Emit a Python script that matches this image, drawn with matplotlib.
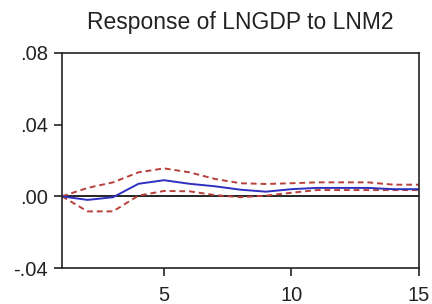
import numpy as np
import matplotlib
matplotlib.use("Agg")
import matplotlib.pyplot as plt

plt.rcParams['font.family'] = ['Liberation Sans', 'DejaVu Sans']

# impulse response periods and values
periods = list(range(1, 16))
response = [0.0, -0.002, -0.0005, 0.007, 0.009, 0.007, 0.0056, 0.0037, 0.0026,
            0.004, 0.0047, 0.0047, 0.0047, 0.004, 0.004]
upper = [0.0, 0.0047, 0.0078, 0.0134, 0.0156, 0.0134, 0.0097, 0.0073, 0.0069,
         0.0073, 0.0078, 0.0078, 0.0078, 0.0065, 0.0065]
lower = [0.0, -0.0084, -0.0084, 0.0004, 0.003, 0.0028, 0.0007, -0.0005, 0.0004,
         0.002, 0.0035, 0.0035, 0.0035, 0.0035, 0.0035]
yticks = [0.08, 0.04, 0.0, -0.04]
ytick_labels = ['.08', '.04', '.00', '-.04']
xticks = [5, 10, 15]

fig = plt.figure(figsize=(4.32, 3.04), dpi=100)
ax = fig.add_axes([62 / 432, 1 - 268 / 304, (419 - 62) / 432, (268 - 53) / 304])

ax.axhline(0, color='black', lw=1.2)
ax.plot(periods, upper, color='#b8403a', lw=1.4, ls=(0, (3, 2)))
ax.plot(periods, lower, color='#b8403a', lw=1.4, ls=(0, (3, 2)))
ax.plot(periods, response, color='#3030c0', lw=1.4)

ax.set_xlim(1, 15)
ax.set_ylim(-0.04, 0.08)
ax.set_xticks(xticks)
ax.set_xticklabels([str(t) for t in xticks])
ax.set_yticks(yticks)
ax.set_yticklabels(ytick_labels)
ax.tick_params(direction='out', length=6, width=1.2, labelsize=14.5, colors='#222222',
               top=False, right=False)
ax.tick_params(axis='x', pad=7)
ax.tick_params(axis='y', pad=4)
for s in ax.spines.values():
    s.set_linewidth(1.2)
    s.set_color('#222222')

fig.text(240 / 432, 1 - 22 / 304, 'Response of LNGDP to LNM2', ha='center',
         va='center', fontsize=16.5, color='#222222')

fig.savefig('out.png', dpi=100)
